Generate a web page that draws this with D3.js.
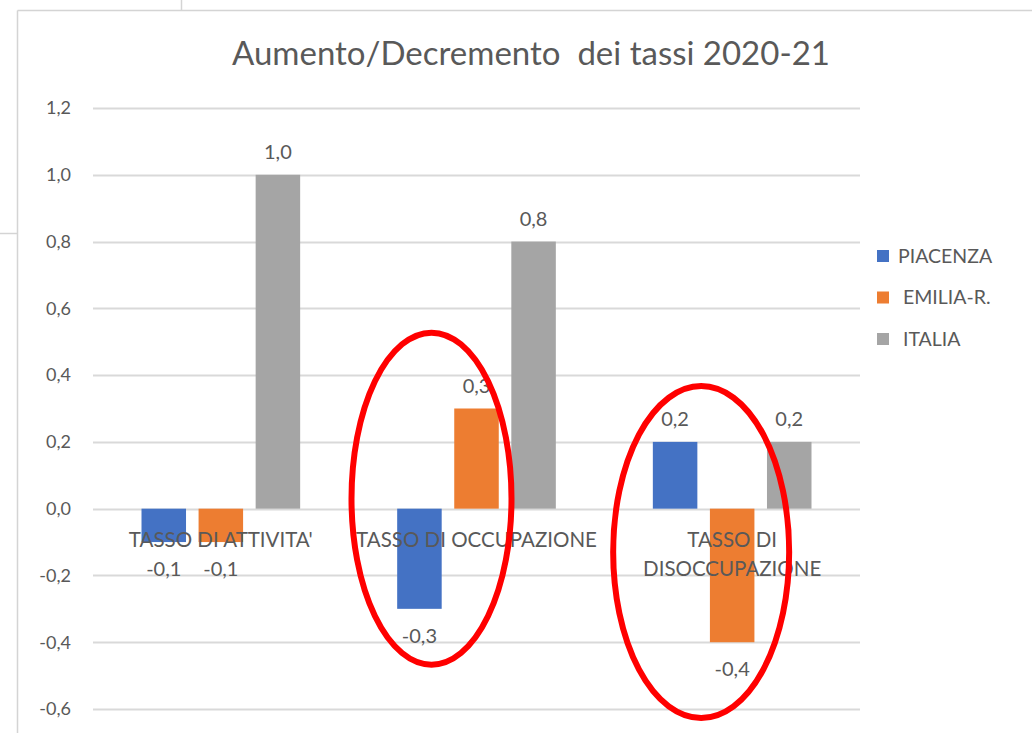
<!doctype html>
<html>
<head>
<meta charset="utf-8">
<script src="https://d3js.org/d3.v7.min.js"></script>
<style>
    body { margin: 0; background: #fff; }
    text { font-family: "Lato", "Liberation Sans", sans-serif; fill: #595959; }
</style>
</head>
<body>
<script>
    // data
    var categories = ["TASSO DI ATTIVITA'", "TASSO DI OCCUPAZIONE", "TASSO DI DISOCCUPAZIONE"];
    var catLines = [["TASSO DI ATTIVITA'"], ["TASSO DI OCCUPAZIONE"], ["TASSO DI", "DISOCCUPAZIONE"]];
    var series = ["PIACENZA", "EMILIA-R.", "ITALIA"];
    var piacenza = [-0.1, -0.3, 0.2];
    var emilia = [-0.1, 0.3, -0.4];
    var italia = [1.0, 0.8, 0.2];
    var yTicks = [-0.6, -0.4, -0.2, 0, 0.2, 0.4, 0.6, 0.8, 1.0, 1.2];
    var colors = ["#4472C4", "#ED7D31", "#A5A5A5"];

    var values = [piacenza, emilia, italia];

    var W = 1032, H = 733;
    var svg = d3.select("body").append("svg")
        .attr("width", W)
        .attr("height", H);

    // frame lines from the screenshot
    svg.append("line").attr("x1", 17.5).attr("y1", 10.5).attr("x2", W).attr("y2", 10.5)
        .attr("stroke", "#d4d4d4").attr("stroke-width", 1.5);
    svg.append("line").attr("x1", 17.5).attr("y1", 10.5).attr("x2", 17.5).attr("y2", H)
        .attr("stroke", "#d4d4d4").attr("stroke-width", 1.5);
    svg.append("line").attr("x1", 181.5).attr("y1", 0).attr("x2", 181.5).attr("y2", 10)
        .attr("stroke", "#d4d4d4").attr("stroke-width", 1.5);
    svg.append("line").attr("x1", 0).attr("y1", 233.5).attr("x2", 17).attr("y2", 233.5)
        .attr("stroke", "#d4d4d4").attr("stroke-width", 1.5);

    // scales
    var x0 = d3.scaleBand().domain(categories).range([93, 860]);
    var x1 = d3.scaleBand().domain(series).range([0, x0.bandwidth()])
        .paddingInner(0.22).paddingOuter(0.85);
    var y = d3.scaleLinear().domain([-0.6, 1.2]).range([709, 108]);

    var fmt = function (v) { return d3.format(".1f")(v).replace(".", ",").replace("−", "-"); };

    // gridlines
    svg.append("g").selectAll("line")
        .data(yTicks)
        .enter().append("line")
        .attr("x1", 93).attr("x2", 860)
        .attr("y1", function (d) { return Math.round(y(d)) + 0.5; })
        .attr("y2", function (d) { return Math.round(y(d)) + 0.5; })
        .attr("stroke", "#d9d9d9")
        .attr("stroke-width", 2);

    // y axis labels
    svg.append("g").selectAll("text")
        .data(yTicks)
        .enter().append("text")
        .attr("x", 71)
        .attr("y", function (d) { return y(d); })
        .attr("dy", "0.35em")
        .attr("text-anchor", "end")
        .attr("font-size", "18px")
        .text(fmt);

    // bars
    var rows = [];
    categories.forEach(function (c, i) {
        series.forEach(function (s, j) {
            rows.push({cat: c, ser: s, j: j, v: values[j][i]});
        });
    });

    svg.append("g").selectAll("rect")
        .data(rows)
        .enter().append("rect")
        .attr("x", function (d) { return x0(d.cat) + x1(d.ser); })
        .attr("width", x1.bandwidth())
        .attr("y", function (d) { return y(Math.max(0, d.v)); })
        .attr("height", function (d) { return Math.abs(y(d.v) - y(0)); })
        .attr("fill", function (d) { return colors[d.j]; });

    // data labels
    svg.append("g").selectAll("text")
        .data(rows)
        .enter().append("text")
        .attr("x", function (d) { return x0(d.cat) + x1(d.ser) + x1.bandwidth() / 2; })
        .attr("y", function (d) { return d.v >= 0 ? y(d.v) - 16 : y(d.v) + 34; })
        .attr("text-anchor", "middle")
        .attr("font-size", "20px")
        .text(function (d) { return fmt(d.v); });

    // category labels, drawn on top of the bars
    var catG = svg.append("g").selectAll("text")
        .data(categories)
        .enter().append("text")
        .attr("x", function (d) { return x0(d) + x0.bandwidth() / 2; })
        .attr("y", y(0) + 38)
        .attr("text-anchor", "middle")
        .attr("font-size", "20.5px");
    catG.each(function (d, i) {
        var t = d3.select(this);
        catLines[i].forEach(function (line, k) {
            t.append("tspan")
                .attr("x", x0(d) + x0.bandwidth() / 2)
                .attr("dy", k === 0 ? 0 : 29)
                .text(line);
        });
    });

    // title
    svg.append("text")
        .attr("x", 531)
        .attr("y", 65)
        .attr("text-anchor", "middle")
        .attr("font-size", "33px")
        .text("Aumento/Decremento  dei tassi 2020-21")
        .style("white-space", "pre");

    // legend
    var legend = svg.append("g").selectAll("g")
        .data(series)
        .enter().append("g")
        .attr("transform", function (d, i) { return "translate(877," + (256 + i * 41.5) + ")"; });
    legend.append("rect")
        .attr("x", 0).attr("y", -6)
        .attr("width", 12).attr("height", 12)
        .attr("fill", function (d, i) { return colors[i]; });
    legend.append("text")
        .attr("x", function (d, i) { return i === 0 ? 21 : 26; })
        .attr("y", 0)
        .attr("dy", "0.35em")
        .attr("font-size", "19.5px")
        .text(function (d) { return d; });

    // red annotation ellipses
    var ann = [
        {cat: categories[1], dx: -45, v: 0.03, rx: 80, ry: 166},
        {cat: categories[2], dx: -31, v: -0.13, rx: 88, ry: 166}
    ];
    svg.append("g").selectAll("ellipse")
        .data(ann)
        .enter().append("ellipse")
        .attr("cx", function (d) { return x0(d.cat) + x0.bandwidth() / 2 + d.dx; })
        .attr("cy", function (d) { return y(d.v); })
        .attr("rx", function (d) { return d.rx; })
        .attr("ry", function (d) { return d.ry; })
        .attr("fill", "none")
        .attr("stroke", "#ff0000")
        .attr("stroke-width", 6);
</script>
</body>
</html>
